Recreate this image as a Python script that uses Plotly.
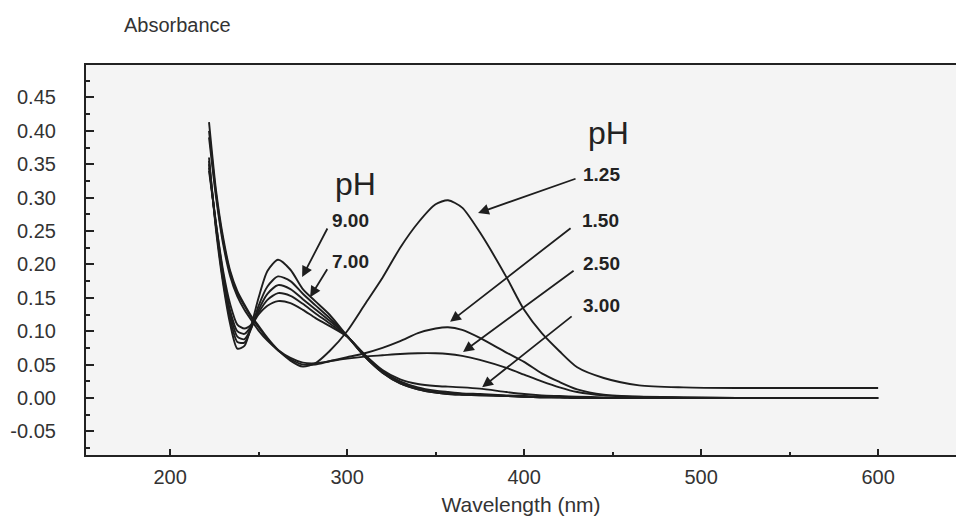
import plotly.graph_objects as go

# Wavelength grid (nm)
wavelength = [222, 226, 230, 234, 238, 242, 246, 250, 255, 261, 268, 275, 282, 290,
              300, 310, 320, 330, 340, 350, 357, 365, 375, 390, 400, 410, 420, 430,
              445, 465, 490, 520, 560, 600]

# Absorbance per pH
ph_125 = [0.413, 0.31, 0.24, 0.19, 0.16, 0.14, 0.122, 0.108, 0.09, 0.072, 0.056, 0.047,
          0.052, 0.07, 0.10, 0.14, 0.18, 0.225, 0.262, 0.29, 0.296, 0.285, 0.248, 0.181,
          0.132, 0.097, 0.07, 0.046, 0.03, 0.019, 0.016, 0.015, 0.015, 0.015]
ph_150 = [0.40, 0.305, 0.235, 0.187, 0.157, 0.138, 0.12, 0.106, 0.088, 0.071, 0.058, 0.05,
          0.05, 0.055, 0.061, 0.067, 0.075, 0.085, 0.097, 0.104, 0.106, 0.102, 0.09, 0.068,
          0.054, 0.037, 0.024, 0.013, 0.005, 0.002, 0.001, 0.0, 0.0, 0.0]
ph_250 = [0.39, 0.30, 0.23, 0.182, 0.152, 0.132, 0.116, 0.101, 0.086, 0.072, 0.06, 0.053,
          0.052, 0.055, 0.059, 0.062, 0.064, 0.066, 0.067, 0.067, 0.066, 0.063, 0.057, 0.045,
          0.035, 0.025, 0.016, 0.009, 0.004, 0.002, 0.001, 0.0, 0.0, 0.0]
ph_300 = [0.34, 0.26, 0.19, 0.14, 0.11, 0.104, 0.11, 0.125, 0.138, 0.145, 0.142, 0.132,
          0.12, 0.108, 0.092, 0.065, 0.042, 0.028, 0.021, 0.018, 0.017, 0.016, 0.014, 0.009,
          0.006, 0.004, 0.003, 0.002, 0.001, 0.0, 0.0, 0.0, 0.0, 0.0]
ph_400 = [0.345, 0.26, 0.185, 0.13, 0.10, 0.096, 0.108, 0.128, 0.147, 0.157, 0.153, 0.141,
          0.127, 0.112, 0.092, 0.064, 0.04, 0.025, 0.016, 0.011, 0.009, 0.007, 0.006, 0.004,
          0.003, 0.002, 0.001, 0.001, 0.0, 0.0, 0.0, 0.0, 0.0, 0.0]
ph_500 = [0.35, 0.255, 0.18, 0.125, 0.092, 0.088, 0.106, 0.132, 0.156, 0.169, 0.163, 0.148,
          0.133, 0.116, 0.093, 0.063, 0.039, 0.023, 0.014, 0.009, 0.007, 0.006, 0.005, 0.003,
          0.002, 0.001, 0.001, 0.0, 0.0, 0.0, 0.0, 0.0, 0.0, 0.0]
ph_700 = [0.355, 0.255, 0.175, 0.118, 0.084, 0.083, 0.105, 0.138, 0.167, 0.182, 0.175, 0.156,
          0.139, 0.12, 0.093, 0.062, 0.038, 0.022, 0.013, 0.008, 0.006, 0.005, 0.004, 0.003,
          0.002, 0.001, 0.001, 0.0, 0.0, 0.0, 0.0, 0.0, 0.0, 0.0]
ph_900 = [0.36, 0.25, 0.17, 0.11, 0.074, 0.078, 0.11, 0.15, 0.19, 0.207, 0.192, 0.163,
          0.145, 0.125, 0.093, 0.062, 0.038, 0.022, 0.013, 0.008, 0.006, 0.005, 0.004, 0.003,
          0.002, 0.001, 0.001, 0.0, 0.0, 0.0, 0.0, 0.0, 0.0, 0.0]

series_names = ["pH 1.25", "pH 1.50", "pH 2.50", "pH 3.00", "pH 4.00", "pH 5.00", "pH 7.00", "pH 9.00"]
series_values = [ph_125, ph_150, ph_250, ph_300, ph_400, ph_500, ph_700, ph_900]

y_tick_vals = [-0.05, 0.00, 0.05, 0.10, 0.15, 0.20, 0.25, 0.30, 0.35, 0.40, 0.45]
y_tick_text = ["-0.05", "0.00", "0.05", "0.10", "0.15", "0.20", "0.25", "0.30", "0.35", "0.40", "0.45"]
x_tick_vals = [200, 300, 400, 500, 600]

left_labels = ["9.00", "7.00"]
right_labels = ["1.25", "1.50", "2.50", "3.00"]

fig = go.Figure()
for name, vals in zip(series_names, series_values):
    fig.add_trace(go.Scatter(
        x=wavelength, y=vals, mode="lines", name=name,
        line=dict(color="#1e1e1e", width=1.9, shape="spline", smoothing=0.7),
        showlegend=False,
    ))

FONT = "Liberation Sans, Arial, sans-serif"
ann = []
ann.append(dict(x=304.5, y=0.320, text="pH", showarrow=False, xref="x", yref="y",
                font=dict(family=FONT, size=32, color="#222")))
ann.append(dict(x=447.5, y=0.397, text="pH", showarrow=False, xref="x", yref="y",
                font=dict(family=FONT, size=32, color="#222")))
# label position (x, y), arrow head (x, y), arrow tail (x, y)
label_pos = {
    "9.00": (301.7, 0.266, 274.6, 0.181, 289.3, 0.256),
    "7.00": (301.7, 0.204, 279.1, 0.151, 289.3, 0.195),
    "1.25": (443.5, 0.334, 374.0, 0.277, 429.9, 0.329),
    "1.50": (442.9, 0.266, 358.2, 0.114, 427.1, 0.256),
    "2.50": (443.5, 0.202, 365.5, 0.069, 428.8, 0.192),
    "3.00": (443.5, 0.138, 376.3, 0.016, 427.7, 0.124),
}
for lab in left_labels + right_labels:
    lx, ly, hx, hy, tx, ty = label_pos[lab]
    ann.append(dict(x=lx, y=ly, text="<b>" + lab + "</b>", showarrow=False, xref="x", yref="y",
                    font=dict(family=FONT, size=19, color="#222")))
    ann.append(dict(x=hx, y=hy, ax=tx, ay=ty, xref="x", yref="y", axref="x", ayref="y",
                    text="", showarrow=True, arrowhead=2, arrowsize=1.2, arrowwidth=1.8,
                    arrowcolor="#1e1e1e"))
ann.append(dict(x=0.1057, y=1.1026, xref="paper", yref="paper", text="Absorbance",
                showarrow=False, xanchor="center", yanchor="middle",
                font=dict(family=FONT, size=20, color="#333")))

fig.update_layout(
    width=956, height=516,
    margin=dict(l=86, r=0, t=65, b=61),
    paper_bgcolor="white", plot_bgcolor="#f4f4f4",
    font=dict(family=FONT, color="#333"),
    annotations=ann,
)

fig.update_xaxes(
    range=[152.5, 644], tickvals=x_tick_vals, ticks="inside", ticklen=6, tickwidth=1.5,
    tickcolor="#222", showgrid=False, zeroline=False, showline=True, linewidth=2.2,
    linecolor="#222", mirror=True, tickfont=dict(family=FONT, size=20, color="#333"),
    ticklabelstandoff=3,
    minor=dict(dtick=50, ticks="inside", ticklen=3, tickcolor="#222"),
    title=dict(text="Wavelength (nm)", font=dict(family=FONT, size=21, color="#333"), standoff=12),
)
fig.update_yaxes(
    range=[-0.0853, 0.4985], tickvals=y_tick_vals, ticktext=y_tick_text, ticks="inside",
    ticklen=8, tickwidth=1.5, tickcolor="#222", showgrid=False, zeroline=False,
    showline=True, linewidth=2.2, linecolor="#222", mirror=False,
    tickfont=dict(family=FONT, size=20, color="#333"), ticklabelstandoff=24,
    minor=dict(tickvals=[-0.075, -0.025, 0.025, 0.075, 0.125, 0.175, 0.225, 0.275, 0.325,
                         0.375, 0.425, 0.475], ticks="inside", ticklen=4, tickcolor="#222"),
)

fig.write_html(
    "out.html",
    config={"displayModeBar": False},
    post_script="document.body.style.margin='0';document.body.style.overflow='hidden';",
)
